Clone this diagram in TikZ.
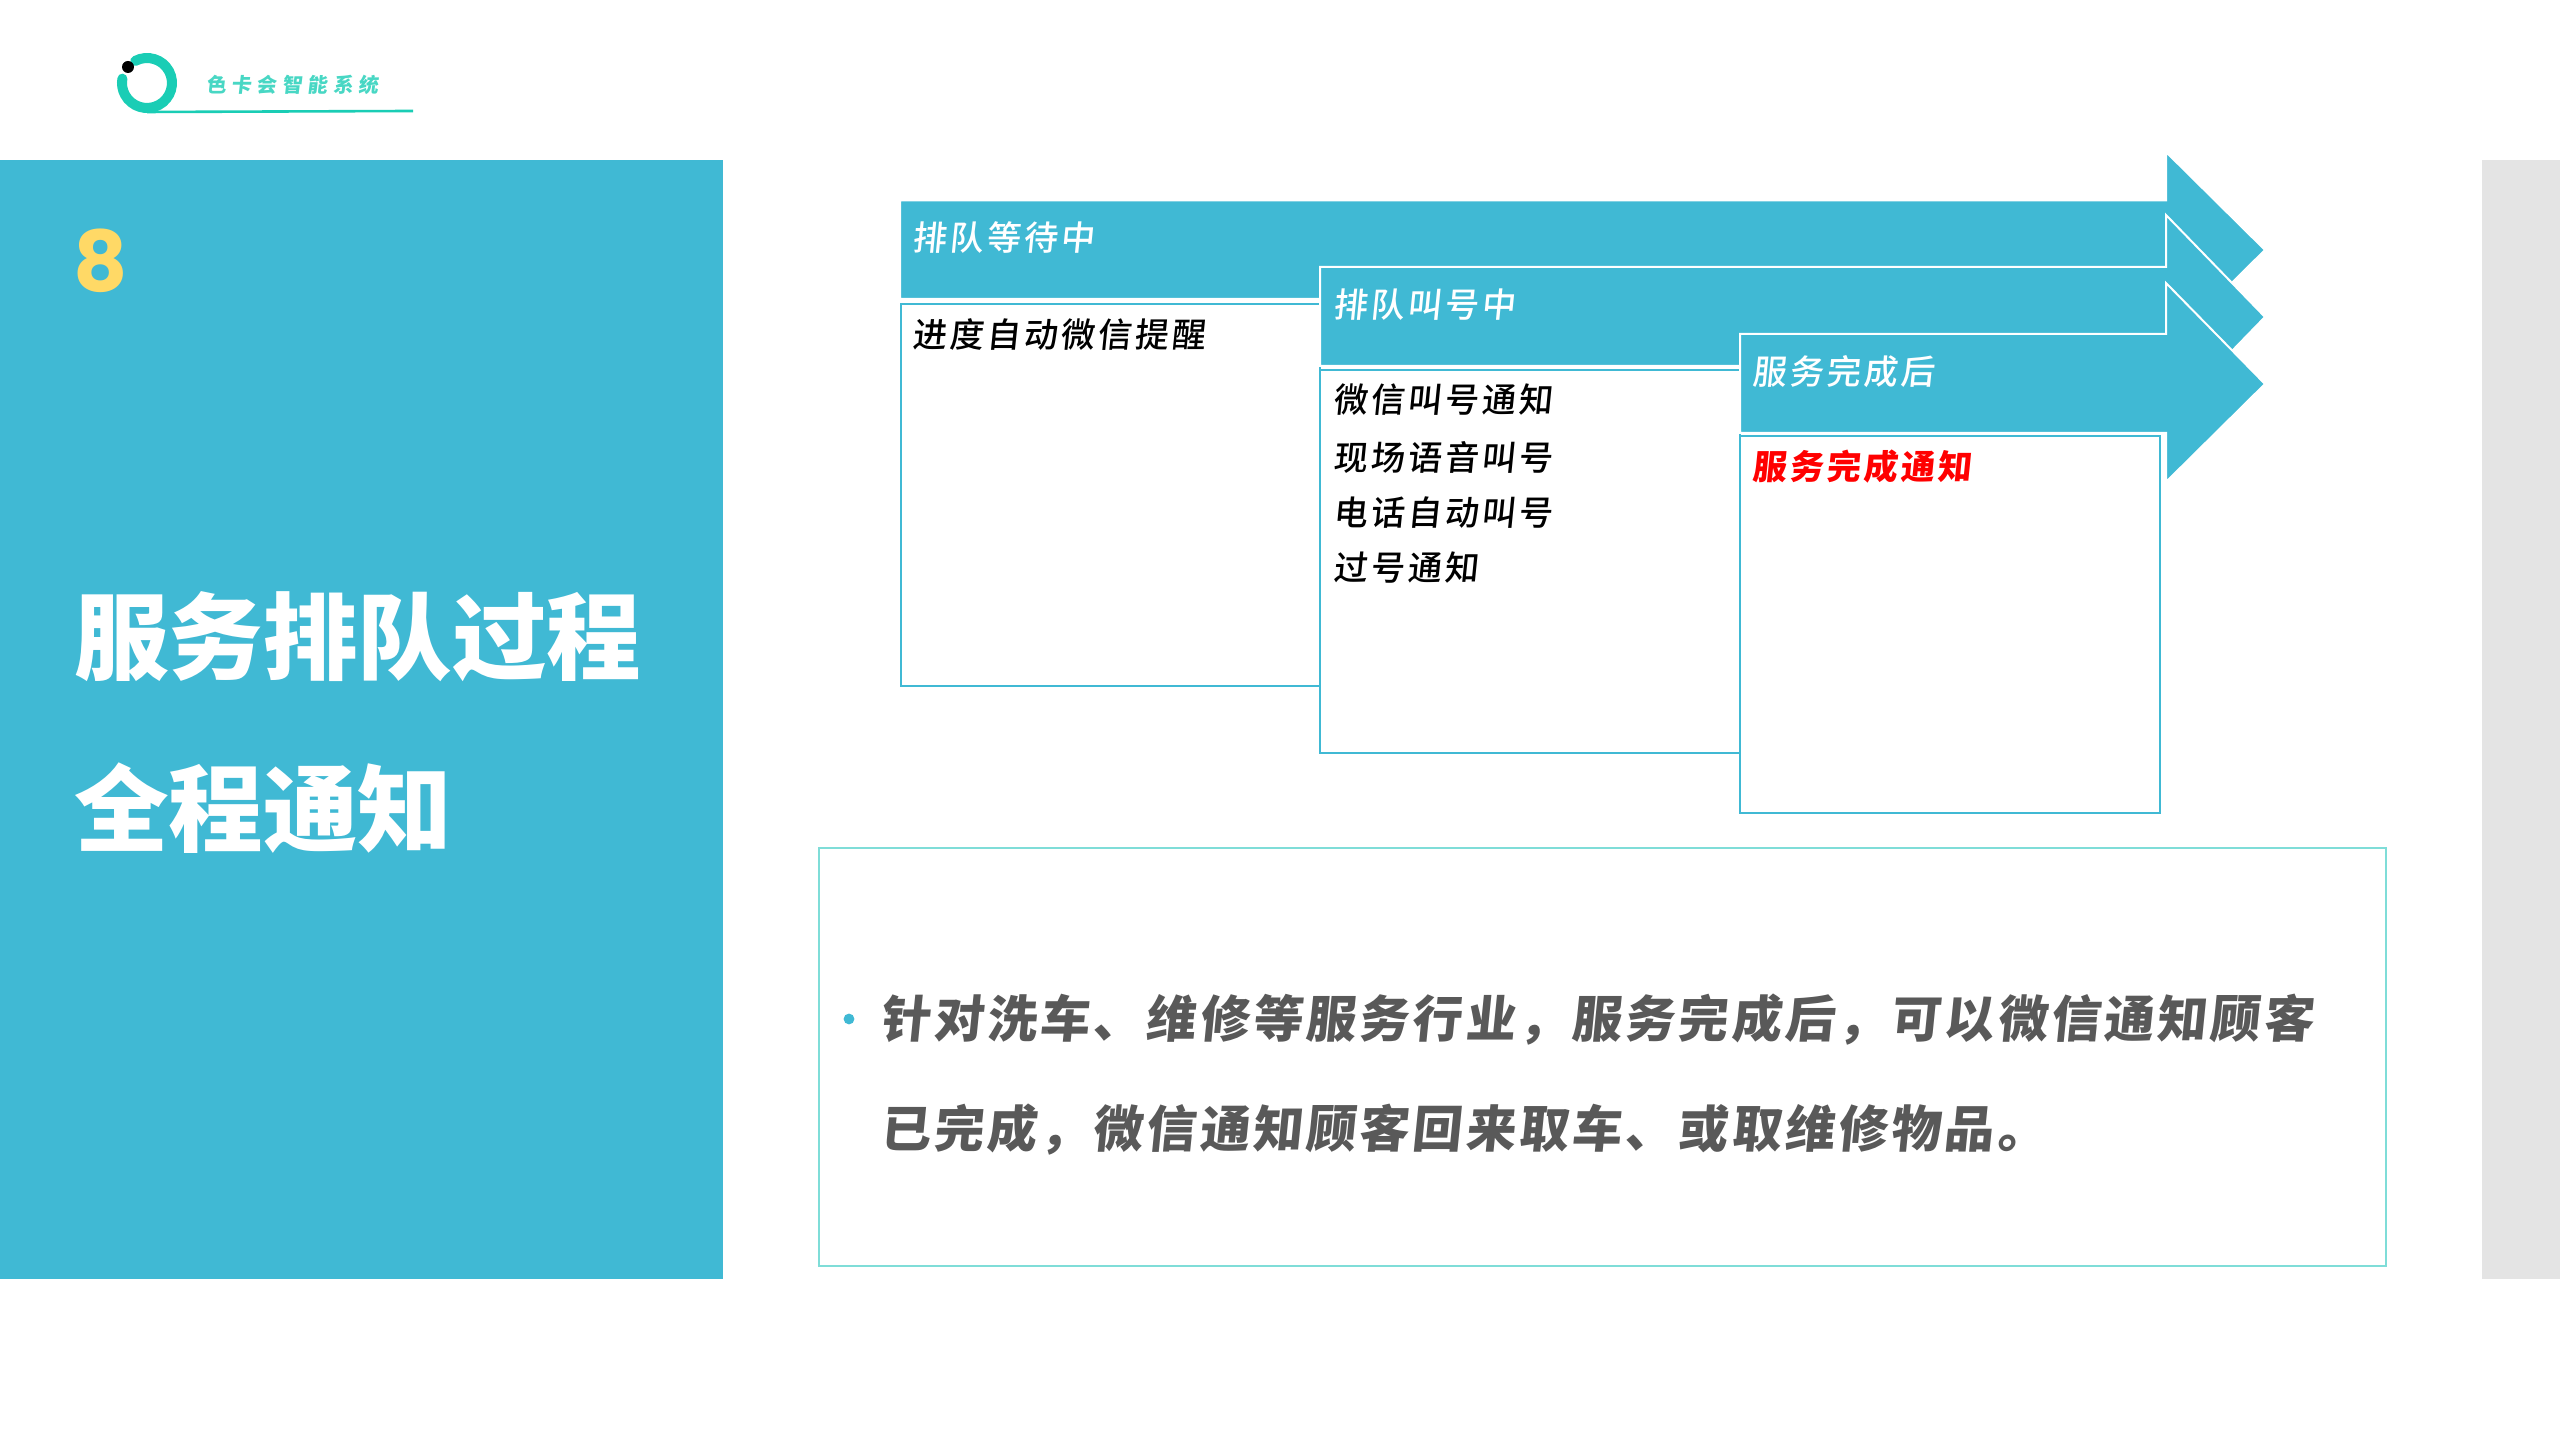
\documentclass[tikz,border=0pt]{standalone}
\usepackage{fontspec}
\setmainfont{Noto Sans CJK SC}
\newfontfamily\cjkup{Noto Sans CJK SC}
\newfontfamily\cjklabel[FakeSlant=0.1,LetterSpace=9]{Noto Sans CJK SC}
\newfontfamily\cjkmedium[FakeSlant=0.1,LetterSpace=9]{Noto Sans CJK SC Medium}
\newfontfamily\cjkbody[FakeSlant=0.1,LetterSpace=6.4]{Noto Sans CJK SC}
\newfontfamily\cjklogo[FakeSlant=0.12,LetterSpace=27]{Noto Sans CJK SC}
\newfontfamily\numfont{Poppins}
\definecolor{panelblue}{HTML}{40B9D4}
\definecolor{greybar}{HTML}{E4E4E4}
\definecolor{ringteal}{HTML}{1ACDB5}
\definecolor{boxteal}{HTML}{7FDDD8}
\definecolor{gold}{HTML}{FFD966}
\definecolor{bodygrey}{HTML}{595959}
\tikzset{
  arrowshape/.style={fill=panelblue,draw=white,line width=1pt,line join=miter},
  listbox/.style={draw=panelblue,line width=1.2pt,fill=white},
  txt/.style={anchor=west,inner sep=0pt,outer sep=0pt},
  whitelabel/.style={txt,text=white,font=\cjkmedium\fontsize{17}{20}\selectfont},
  blacklabel/.style={txt,text=black,font=\cjkmedium\fontsize{17}{20}\selectfont},
  redlabel/.style={txt,text=red,font=\cjklabel\bfseries\fontsize{17}{20}\selectfont},
  bigtitle/.style={txt,text=white,font=\cjkup\bfseries\fontsize{47.3}{56}\selectfont},
  bodytext/.style={txt,text=bodygrey,font=\cjkbody\bfseries\fontsize{25}{28}\selectfont},
}
\begin{document}
\begin{tikzpicture}[x=0.5pt,y=0.5pt]
\useasboundingbox (0,0) rectangle (2560,1440);
\fill[white] (0,0) rectangle (2560,1440);
% panels
\fill[panelblue] (0,161) rectangle (723,1280);
\fill[greybar] (2482,161) rectangle (2560,1280);
% logo
\draw[ringteal,line width=5pt,line cap=round] ([shift={(118:25)}]147,1357) arc[start angle=118,end angle=-190,radius=12.5pt];
\fill[black] (128,1373) circle[radius=3pt];
\draw[ringteal,line width=1.3pt] (147,1328) -- (413,1329);
\node[txt,text=ringteal!80,font=\cjklogo\bfseries\fontsize{10}{12}\selectfont] (logotext) at (206,1355) {色卡会智能系统};
% left panel text
\node[txt,text=gold,font=\numfont\bfseries\fontsize{42}{50}\selectfont] (num) at (73,1179) {8};
\node[bigtitle] (title1) at (74,803) {服务排队过程};
\node[bigtitle] (title2) at (74,632) {全程通知};
% arrow 1 and box 1
\draw[arrowshape] (900,1239.5) -- (2166,1239.5) -- (2166,1288) -- (2265,1190) -- (2166,1092) -- (2166,1141) -- (900,1141) -- cycle;
\draw[listbox] (901,1136) rectangle (1320,754);
% arrow 2 and box 2
\draw[arrowshape] (1320,1173) -- (2166,1173) -- (2166,1225) -- (2265,1123) -- (2166,1021) -- (2166,1074) -- (1320,1074) -- cycle;
\draw[listbox] (1320,1070) rectangle (1740,687);
% arrow 3 and box 3
\draw[arrowshape] (1740,1106) -- (2166,1106) -- (2166,1157) -- (2265,1056) -- (2166,958) -- (2166,1007) -- (1740,1007) -- cycle;
\draw[listbox] (1740,1004) rectangle (2160,627);
% labels
\node[whitelabel] (a1) at (912,1202) {排队等待中};
\node[blacklabel] (b1) at (912,1105) {进度自动微信提醒};
\node[whitelabel] (a2) at (1333,1135) {排队叫号中};
\node[blacklabel] (b2a) at (1333,1040) {微信叫号通知};
\node[blacklabel] (b2b) at (1333,983) {现场语音叫号};
\node[blacklabel] (b2c) at (1333,927) {电话自动叫号};
\node[blacklabel] (b2d) at (1333,872) {过号通知};
\node[whitelabel] (a3) at (1752,1068) {服务完成后};
\node[redlabel] (b3) at (1752,973) {服务完成通知};
% text box
\draw[boxteal,line width=1.4pt] (819,592) rectangle (2386,174);
\fill[panelblue] (849,421) circle[radius=2.7pt];
\node[bodytext] (body1) at (880,420) {针对洗车、维修等服务行业，服务完成后，可以微信通知顾客};
\node[bodytext] (body2) at (880,310) {已完成，微信通知顾客回来取车、或取维修物品。};
\end{tikzpicture}
\end{document}
